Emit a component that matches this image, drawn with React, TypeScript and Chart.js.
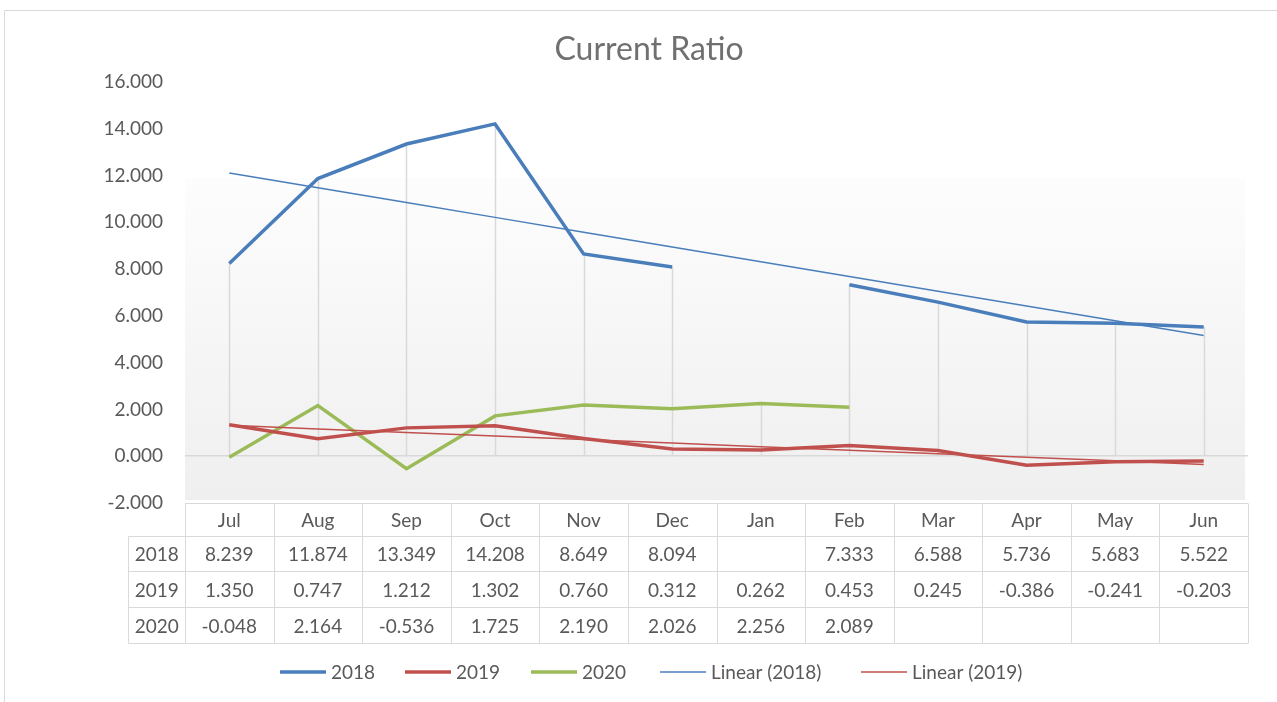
import React, { useEffect, useRef } from "react";
import { Chart, registerables } from "chart.js";

Chart.register(...registerables);

const months = ["Jul", "Aug", "Sep", "Oct", "Nov", "Dec", "Jan", "Feb", "Mar", "Apr", "May", "Jun"];
const s2018: (number | null)[] = [8.239, 11.874, 13.349, 14.208, 8.649, 8.094, null, 7.333, 6.588, 5.736, 5.683, 5.522];
const s2019: (number | null)[] = [1.35, 0.747, 1.212, 1.302, 0.76, 0.312, 0.262, 0.453, 0.245, -0.386, -0.241, -0.203];
const s2020: (number | null)[] = [-0.048, 2.164, -0.536, 1.725, 2.19, 2.026, 2.256, 2.089, null, null, null, null];
const seriesNames = ["2018", "2019", "2020"];
const yMin = -2;
const yMax = 16;
const yStep = 2;

const BLUE = "#4A7EBB";
const RED = "#C0504D";
const GREEN = "#9BBB59";
const FONT = "Lato, 'Open Sans', sans-serif";
const TEXT = "#595959";
const GRID = "#d9d9d9";

// Least-squares linear trendline (as Excel does), fitted over the non-empty points
function linearTrend(values: (number | null)[]): number[] {
  const pts: [number, number][] = [];
  values.forEach((v, i) => {
    if (v !== null) pts.push([i + 1, v]);
  });
  const n = pts.length;
  const mx = pts.reduce((a, p) => a + p[0], 0) / n;
  const my = pts.reduce((a, p) => a + p[1], 0) / n;
  let sxy = 0;
  let sxx = 0;
  pts.forEach(([x, y]) => {
    sxy += (x - mx) * (y - my);
    sxx += (x - mx) * (x - mx);
  });
  const b = sxy / sxx;
  const a = my - b * mx;
  return values.map((_, i) => a + b * (i + 1));
}

const fmt = (v: number | null) => (v === null ? "" : v.toFixed(3));

const decorPlugin = {
  id: "decor",
  beforeDraw(chart: any) {
    const ctx = chart.ctx;
    const { left, right } = chart.chartArea;
    ctx.save();
    // outer frame
    ctx.strokeStyle = GRID;
    ctx.lineWidth = 1;
    ctx.beginPath();
    ctx.moveTo(4.5, 702);
    ctx.lineTo(4.5, 10.5);
    ctx.lineTo(1277, 10.5);
    ctx.stroke();
    // plot area gradient
    const top = 178;
    const bottom = 500;
    const g = ctx.createLinearGradient(0, top, 0, bottom);
    g.addColorStop(0, "#fdfdfd");
    g.addColorStop(1, "#efefef");
    ctx.fillStyle = g;
    ctx.fillRect(left, top, right - 3 - left, bottom - top);
    // title
    ctx.fillStyle = "#707070";
    ctx.font = `32px ${FONT}`;
    ctx.textAlign = "center";
    ctx.textBaseline = "middle";
    ctx.fillText("Current Ratio", 649, 50);
    ctx.restore();
  },
  beforeDatasetsDraw(chart: any) {
    const ctx = chart.ctx;
    const x = chart.scales.x;
    const y = chart.scales.y;
    ctx.save();
    ctx.strokeStyle = GRID;
    ctx.lineWidth = 1.5;
    months.forEach((_, i) => {
      const vals = [s2018[i], s2019[i], s2020[i]].filter((v) => v !== null) as number[];
      const mx = Math.max(...vals);
      const px = Math.round(x.getPixelForValue(i)) + 0.5;
      ctx.beginPath();
      ctx.moveTo(px, y.getPixelForValue(mx));
      ctx.lineTo(px, y.getPixelForValue(0));
      ctx.stroke();
    });
    ctx.restore();
  },
  afterDraw(chart: any) {
    const ctx = chart.ctx;
    const { left, right } = chart.chartArea;
    const x = chart.scales.x;
    const colW = (right - left) / months.length;
    const rows = [503.5, 536.5, 571.5, 607.5, 643.5];
    const labelLeft = 128.5;
    ctx.save();
    ctx.strokeStyle = GRID;
    ctx.lineWidth = 1;
    ctx.beginPath();
    ctx.moveTo(left, rows[0]);
    ctx.lineTo(right, rows[0]);
    for (let r = 1; r < rows.length; r++) {
      ctx.moveTo(labelLeft, rows[r]);
      ctx.lineTo(right, rows[r]);
    }
    for (let c = 0; c <= months.length; c++) {
      const px = Math.round(left + c * colW) + 0.5;
      ctx.moveTo(px, rows[0]);
      ctx.lineTo(px, rows[4]);
    }
    ctx.moveTo(labelLeft, rows[1]);
    ctx.lineTo(labelLeft, rows[4]);
    ctx.stroke();

    ctx.fillStyle = TEXT;
    ctx.font = `19px ${FONT}`;
    ctx.textAlign = "center";
    ctx.textBaseline = "middle";
    const all = [s2018, s2019, s2020];
    months.forEach((m, i) => {
      const cx = x.getPixelForValue(i);
      ctx.fillText(m, cx, (rows[0] + rows[1]) / 2 + 1);
      all.forEach((s, r) => {
        ctx.fillText(fmt(s[i]), cx, (rows[r + 1] + rows[r + 2]) / 2 + 1);
      });
    });
    seriesNames.forEach((n, r) => {
      ctx.fillText(n, (labelLeft + left) / 2, (rows[r + 1] + rows[r + 2]) / 2 + 1);
    });

    // legend
    const items = [
      { label: "2018", color: BLUE, w: 3.5, x: 280 },
      { label: "2019", color: RED, w: 3.5, x: 405 },
      { label: "2020", color: GREEN, w: 3.5, x: 531 },
      { label: "Linear (2018)", color: BLUE, w: 1.5, x: 660 },
      { label: "Linear (2019)", color: RED, w: 1.5, x: 861 },
    ];
    const ly = 672;
    ctx.textAlign = "left";
    items.forEach((it) => {
      ctx.strokeStyle = it.color;
      ctx.lineWidth = it.w;
      ctx.beginPath();
      ctx.moveTo(it.x, ly);
      ctx.lineTo(it.x + 46, ly);
      ctx.stroke();
      ctx.fillStyle = TEXT;
      ctx.fillText(it.label, it.x + 51, ly + 1);
    });
    ctx.restore();
  },
};

export default function App() {
  const ref = useRef<HTMLCanvasElement | null>(null);
  useEffect(() => {
    document.body.style.margin = "0";
    const canvas = ref.current!;
    const lineDs = (label: string, data: (number | null)[], color: string, width: number) => ({
      label,
      data,
      borderColor: color,
      backgroundColor: color,
      borderWidth: width,
      pointRadius: 0,
      pointHoverRadius: 0,
      spanGaps: false,
      tension: 0,
      fill: false,
    });
    const chart = new Chart(canvas, {
      type: "line",
      data: {
        labels: months,
        datasets: [
          lineDs("Linear (2018)", linearTrend(s2018), BLUE, 1.5),
          lineDs("Linear (2019)", linearTrend(s2019), RED, 1.5),
          lineDs("2018", s2018, BLUE, 3.5),
          lineDs("2019", s2019, RED, 3.5),
          lineDs("2020", s2020, GREEN, 3.5),
        ],
      },
      options: {
        responsive: false,
        animation: false,
        events: [],
        layout: { padding: { left: 0, right: 29, top: 82, bottom: 199 } },
        plugins: { legend: { display: false }, title: { display: false }, tooltip: { enabled: false } },
        scales: {
          x: { type: "category", display: false, offset: true },
          y: {
            min: yMin,
            max: yMax,
            afterFit: (s: any) => {
              s.width = 185;
            },
            border: { display: false },
            grid: {
              drawTicks: false,
              color: (c: any) => (c.tick && c.tick.value === 0 ? GRID : "rgba(0,0,0,0)"),
              lineWidth: 1.5,
            },
            ticks: {
              stepSize: yStep,
              padding: 22,
              color: TEXT,
              font: { family: FONT, size: 19 },
              callback: (v: any) => Number(v).toFixed(3),
            },
          },
        },
      },
      plugins: [decorPlugin],
    });
    return () => chart.destroy();
  }, []);
  return (
    <div style={{ position: "relative", width: 1277, height: 702, background: "#fff" }}>
      <canvas ref={ref} width={1277} height={702} style={{ display: "block" }} />
    </div>
  );
}
